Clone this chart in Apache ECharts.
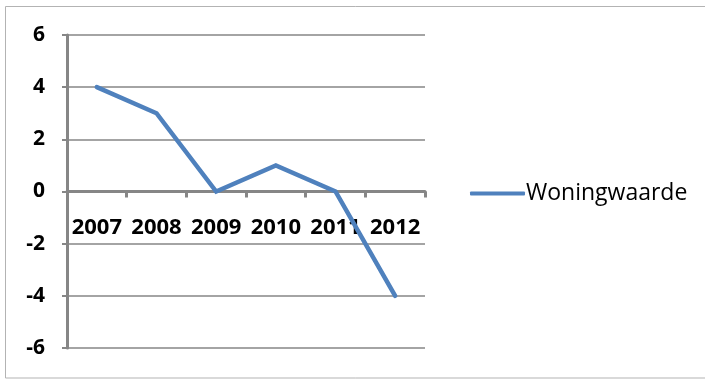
<!DOCTYPE html>
<html>
<head>
<meta charset="utf-8">
<script src="https://cdn.jsdelivr.net/npm/echarts@6/dist/echarts.min.js"></script>
<style>
  html, body { margin: 0; padding: 0; background: #fff; }
  #chart { width: 705px; height: 379px; }
</style>
</head>
<body>
<div id="chart"></div>
<script>
// Yearly change in home value
const years = ['2007', '2008', '2009', '2010', '2011', '2012'];
const woningwaarde = [4, 3, 0, 1, 0, -4];
const seriesName = 'Woningwaarde';

const axisGrey = '#868686';
const lineBlue = '#4F81BD';
const fontFamily = '"Open Sans", "Noto Sans", sans-serif';

const chart = echarts.init(document.getElementById('chart'), null, { renderer: 'canvas' });

chart.setOption({
  animation: false,
  backgroundColor: '#ffffff',
  graphic: [{
    type: 'rect',
    shape: { x: 5.5, y: 6.5, width: 710, height: 371.5 },
    style: { fill: 'none', stroke: '#b3b3b3', lineWidth: 1 },
    silent: true
  }],
  grid: { left: 67, right: 280, top: 35, bottom: 31, containLabel: false, outerBoundsMode: 'none' },
  legend: {
    data: [seriesName],
    left: 465,
    top: 177,
    itemWidth: 55,
    itemHeight: 4,
    itemGap: 0,
    icon: 'roundRect',
    textStyle: { fontFamily: fontFamily, fontSize: 23, color: '#000', padding: [0, 0, 0, -4] }
  },
  xAxis: {
    type: 'category',
    data: years,
    boundaryGap: true,
    z: 0,
    axisLine: { onZero: true, lineStyle: { color: axisGrey, width: 3 } },
    axisTick: { show: true, inside: false, length: 6, lineStyle: { color: axisGrey, width: 3 } },
    // year labels sit just under the zero line, not at the bottom of the plot
    axisLabel: { interval: 0, margin: -131, color: '#000', fontFamily: fontFamily, fontWeight: 'bold', fontSize: 22 },
    splitLine: { show: false }
  },
  yAxis: {
    type: 'value',
    min: -6,
    max: 6,
    interval: 2,
    z: 0,
    axisLine: { show: true, lineStyle: { color: axisGrey, width: 3 } },
    axisTick: { show: true, length: 5, lineStyle: { color: axisGrey, width: 2 } },
    axisLabel: { margin: 22, color: '#000', fontFamily: fontFamily, fontWeight: 'bold', fontSize: 21 },
    splitLine: { show: true, lineStyle: { color: axisGrey, width: 1.5 } }
  },
  series: [{
    name: seriesName,
    type: 'line',
    data: woningwaarde,
    symbol: 'none',
    zlevel: 1,
    lineStyle: { color: lineBlue, width: 4.5, cap: 'round', join: 'miter' },
    itemStyle: { color: lineBlue }
  }]
});
</script>
</body>
</html>
